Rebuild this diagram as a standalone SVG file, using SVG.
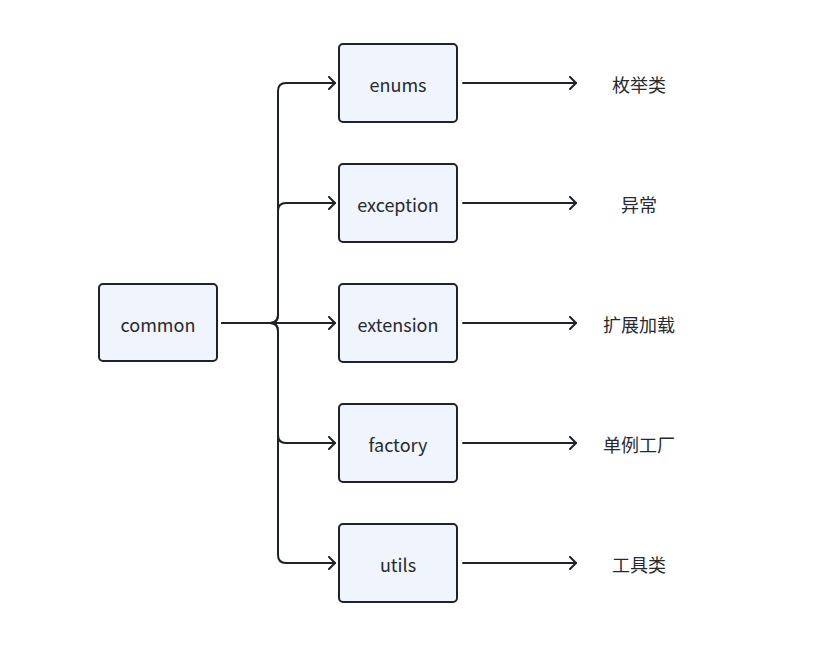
<svg xmlns="http://www.w3.org/2000/svg" width="826" height="661" viewBox="0 0 826 661">
<defs>
<marker id="arr" markerWidth="10" markerHeight="14" refX="8" refY="7" orient="auto" markerUnits="userSpaceOnUse">
<path d="M2,1 L8,7 L2,13" fill="none" stroke="#1f2329" stroke-width="2" stroke-linecap="round" stroke-linejoin="round"/>
</marker>
<style>
.box{fill:#eff4fd;stroke:#1f2329;stroke-width:2}
.t{font-family:"Noto Sans CJK SC","Noto Sans",sans-serif;font-size:18px;fill:#262a30;text-anchor:middle;dominant-baseline:central}
.c{fill:none;stroke:#1f2329;stroke-width:2;stroke-linecap:round;stroke-linejoin:round}
</style>
</defs>
<rect width="826" height="661" fill="#ffffff"/>
<g id="connectors">
<path class="c" d="M222,323 L270,323 Q278,323 278,315 L278,91 Q278,83 286,83 L335,83" marker-end="url(#arr)"/>
<path class="c" d="M270,323 Q278,323 278,315 L278,211 Q278,203 286,203 L335,203" marker-end="url(#arr)"/>
<path class="c" d="M222,323 L335,323" marker-end="url(#arr)"/>
<path class="c" d="M270,323 Q278,323 278,331 L278,435 Q278,443 286,443 L335,443" marker-end="url(#arr)"/>
<path class="c" d="M270,323 Q278,323 278,331 L278,555 Q278,563 286,563 L335,563" marker-end="url(#arr)"/>
<path class="c" d="M463,83 L576,83" marker-end="url(#arr)"/>
<path class="c" d="M463,203 L576,203" marker-end="url(#arr)"/>
<path class="c" d="M463,323 L576,323" marker-end="url(#arr)"/>
<path class="c" d="M463,443 L576,443" marker-end="url(#arr)"/>
<path class="c" d="M463,563 L576,563" marker-end="url(#arr)"/>
</g>
<g id="common"><rect class="box" x="99" y="284" width="118" height="77" rx="4"/><text class="t" x="158" y="324">common</text></g>
<g id="enums"><rect class="box" x="339" y="44" width="118" height="78" rx="4"/><text class="t" x="398" y="84">enums</text></g>
<g id="exception"><rect class="box" x="339" y="164" width="118" height="78" rx="4"/><text class="t" x="398" y="204">exception</text></g>
<g id="extension"><rect class="box" x="339" y="284" width="118" height="78" rx="4"/><text class="t" x="398" y="324">extension</text></g>
<g id="factory"><rect class="box" x="339" y="404" width="118" height="78" rx="4"/><text class="t" x="398" y="444">factory</text></g>
<g id="utils"><rect class="box" x="339" y="524" width="118" height="78" rx="4"/><text class="t" x="398" y="564">utils</text></g>
<g id="label-enums"><text class="t" x="639" y="84">枚举类</text></g>
<g id="label-exception"><text class="t" x="639" y="204">异常</text></g>
<g id="label-extension"><text class="t" x="639" y="324">扩展加载</text></g>
<g id="label-factory"><text class="t" x="639" y="444">单例工厂</text></g>
<g id="label-utils"><text class="t" x="639" y="564">工具类</text></g>
</svg>
